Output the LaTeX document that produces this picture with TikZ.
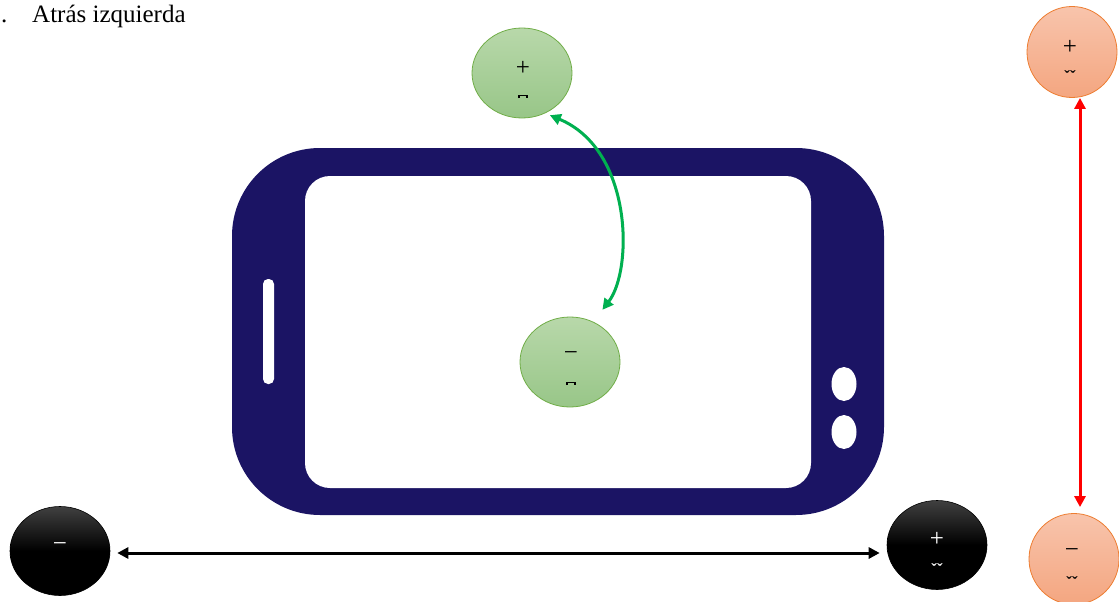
\documentclass[tikz,border=0pt]{standalone}
\usepackage{fontspec}
\setmainfont{Liberation Serif}
\usetikzlibrary{arrows.meta,shapes.geometric,calc}
\definecolor{navy}{RGB}{27,20,100}
\definecolor{gtop}{RGB}{184,216,170}
\definecolor{gbot}{RGB}{152,198,136}
\definecolor{gbrd}{RGB}{112,173,71}
\definecolor{otop}{RGB}{248,196,172}
\definecolor{obot}{RGB}{244,166,128}
\definecolor{obrd}{RGB}{237,125,49}
\definecolor{garrow}{RGB}{0,176,80}
\definecolor{btop}{RGB}{64,64,64}
\tikzset{
  gpole/.style={ellipse,draw=gbrd,line width=0.8pt,top color=gtop,bottom color=gbot,minimum width=100pt,minimum height=90pt,inner sep=0pt},
  opole/.style={ellipse,draw=obrd,line width=0.8pt,top color=otop,bottom color=obot,minimum width=90pt,minimum height=91pt,inner sep=0pt},
  bpole/.style={ellipse,draw=black,line width=0.6pt,top color=btop,bottom color=black,middle color=black,minimum width=100pt,minimum height=89pt,inner sep=0pt},
  sign/.style={font=\fontsize{25}{25}\selectfont,inner sep=0pt},
  tick/.style={font=\fontsize{17}{17}\selectfont\bfseries,inner sep=0pt},
  conn/.style={line width=3pt,{Triangle[length=11pt,width=11pt]}-{Triangle[length=11pt,width=11pt]}}
}
\begin{document}
\begin{tikzpicture}[x=1pt,y=-1pt]
\useasboundingbox (0,0) rectangle (1119,602);
% title
\node[anchor=base west,inner sep=0pt,font=\fontsize{25}{25}\selectfont] (dot) at (1,23) {.};
\node[anchor=base west,inner sep=0pt,font=\fontsize{25}{25}\selectfont] (title) at (32,23) {Atrás izquierda};
% phone
\fill[navy,rounded corners=88pt] (232,148) rectangle (884,515);
\fill[white,rounded corners=25pt] (305,176) rectangle (811,488);
\fill[white,rounded corners=5pt] (263,279) rectangle (274,384);
\fill[white] (844,384) ellipse [x radius=12.5pt,y radius=17pt];
\fill[white] (844,432) ellipse [x radius=12.5pt,y radius=17pt];
% green poles
\node[gpole] (g1) at (522,73) {};
\node[sign] (g1s) at (523,68) {+};
\draw[line width=1.2pt] (519,98) -- (519,95.5) -- (527,95.5) -- (527,98);
\node[gpole] (g2) at (570,362) {};
\node[sign] (g2s) at (571,356) {−};
\draw[line width=1.2pt] (567,385) -- (567,382.5) -- (575,382.5) -- (575,385);
\draw[conn,garrow,shorten <=5pt,shorten >=15pt] (g1.-60) .. controls (633,150) and (633,270) .. (g2.60);
% orange poles
\node[opole] (o1) at (1072,52) {};
\node[sign] (o1s) at (1070,47) {+};
\node[tick] (o1t) at (1070,77) {ˇˇ};
\node[opole] (o2) at (1074,559) {};
\node[sign] (o2s) at (1072,553) {−};
\node[tick] (o2t) at (1072,583) {ˇˇ};
\draw[conn,red] ([xshift=8pt]o1.south) -- ([xshift=6pt,yshift=6pt]o2.north);
% black poles
\node[bpole] (b1) at (60,551) {};
\node[sign,white] (b1s) at (60,547) {−};
\node[bpole] (b2) at (937,545) {};
\node[sign,white] (b2s) at (937,539) {+};
\node[tick,white] (b2t) at (937,570) {ˇˇ};
\draw[conn,black] ([xshift=7pt,yshift=-2pt]b1.east) -- ([xshift=-7pt,yshift=-8pt]b2.west);
\end{tikzpicture}
\end{document}
